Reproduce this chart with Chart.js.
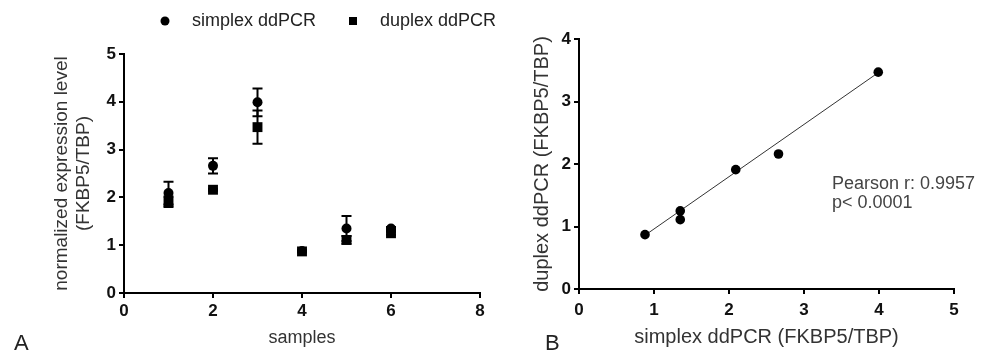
<!DOCTYPE html>
<html>
<head>
<meta charset="utf-8">
<script src="https://cdn.jsdelivr.net/npm/chart.js@4"></script>
<style>
  body { margin: 0; background: #fff; }
  #wrap { position: relative; width: 990px; height: 351px; overflow: hidden; }
  canvas { position: absolute; top: 0; }
  #chartA { left: 0; }
  #chartB { left: 490px; }
</style>
</head>
<body>
<div id="wrap">
  <canvas id="chartA" width="515" height="351"></canvas>
  <canvas id="chartB" width="500" height="351"></canvas>
</div>
<script>
// panel A: per-sample means and error bars
const samples = [1, 2, 3, 4, 5, 6];
const simplexMean = [2.09, 2.66, 3.99, 0.88, 1.35, 1.35];
const simplexSD = [0.24, 0.16, 0.29, 0.02, 0.26, 0.03];
const duplexMean = [1.91, 2.16, 3.47, 0.87, 1.11, 1.25];
const duplexSD = [0.11, 0.02, 0.35, 0.02, 0.08, 0.03];

// panel B: fitted line end points
const fitX = [0.88, 4.0];
const fitY = [0.86, 3.47];
const statsText = ['Pearson r: 0.9957', 'p< 0.0001'];

const FONT = '"Liberation Sans", Arial, sans-serif';
Chart.defaults.font.family = FONT;
Chart.defaults.color = '#222';

function axis(min, max, step, title, titleSize, padTitle, extra) {
    return Object.assign({
        type: 'linear',
        min: min,
        max: max,
        ticks: { stepSize: step, font: { size: 17, weight: 'bold' }, color: '#111', padding: 3 },
        grid: { drawOnChartArea: false, drawTicks: true, tickLength: 5, color: '#000', lineWidth: 2 },
        border: { display: true, color: '#000', width: 2 },
        title: { display: true, text: title, font: { size: titleSize }, color: '#333', padding: padTitle }
    }, extra || {});
}

const errorBars = {
    id: 'errorBars',
    beforeDatasetsDraw(chart) {
        const ctx = chart.ctx;
        const xs = chart.scales.x, ys = chart.scales.y;
        ctx.save();
        ctx.strokeStyle = '#000';
        ctx.lineWidth = 2;
        chart.data.datasets.forEach((ds) => {
            if (!ds.sd) return;
            ds.data.forEach((p, i) => {
                const x = xs.getPixelForValue(p.x);
                const yTop = ys.getPixelForValue(p.y + ds.sd[i]);
                const yBot = ys.getPixelForValue(p.y - ds.sd[i]);
                ctx.beginPath();
                ctx.moveTo(x, yTop); ctx.lineTo(x, yBot);
                ctx.moveTo(x - 5, yTop); ctx.lineTo(x + 5, yTop);
                ctx.moveTo(x - 5, yBot); ctx.lineTo(x + 5, yBot);
                ctx.stroke();
            });
        });
        ctx.restore();
    }
};

const legendA = {
    id: 'legendA',
    afterDraw(chart) {
        const ctx = chart.ctx;
        ctx.save();
        ctx.fillStyle = '#000';
        ctx.beginPath();
        ctx.arc(165, 21, 4.5, 0, Math.PI * 2);
        ctx.fill();
        ctx.fillRect(349, 17, 8, 8);
        ctx.fillStyle = '#222';
        ctx.font = '18px ' + FONT;
        ctx.textBaseline = 'middle';
        ctx.fillText('simplex ddPCR', 192, 21);
        ctx.fillText('duplex ddPCR', 380, 21);
        ctx.font = '22px ' + FONT;
        ctx.textBaseline = 'alphabetic';
        ctx.fillText('A', 14, 350);
        ctx.restore();
    }
};

const labelB = {
    id: 'labelB',
    afterDraw(chart) {
        const ctx = chart.ctx;
        ctx.save();
        ctx.fillStyle = '#444';
        ctx.font = '18px ' + FONT;
        ctx.textBaseline = 'middle';
        ctx.fillText(statsText[0], 342, 184);
        ctx.fillText(statsText[1], 342, 203);
        ctx.fillStyle = '#222';
        ctx.font = '22px ' + FONT;
        ctx.textBaseline = 'alphabetic';
        ctx.fillText('B', 55, 350);
        ctx.restore();
    }
};

new Chart('chartA', {
    type: 'scatter',
    data: {
        datasets: [
            {
                label: 'duplex ddPCR',
                data: samples.map((s, i) => ({ x: s, y: duplexMean[i] })),
                sd: duplexSD,
                pointStyle: 'rect',
                pointRadius: 7,
                backgroundColor: '#000',
                borderColor: '#000',
                borderWidth: 0,
                order: 0
            },
            {
                label: 'simplex ddPCR',
                data: samples.map((s, i) => ({ x: s, y: simplexMean[i] })),
                sd: simplexSD,
                pointStyle: 'circle',
                pointRadius: 5,
                backgroundColor: '#000',
                borderColor: '#000',
                borderWidth: 0,
                order: 1
            }
        ]
    },
    options: {
        responsive: false,
        animation: false,
        layout: { padding: { top: 54, right: 35, bottom: 0, left: 0 } },
        plugins: { legend: { display: false }, tooltip: { enabled: false } },
        scales: {
            x: axis(0, 8, 2, 'samples', 18, { top: 0, bottom: 2 }, {
                afterFit: (s) => { s.height = 58; }
            }),
            y: axis(0, 5, 1, ['normalized expression level', '(FKBP5/TBP)'], 19, { top: 50, bottom: 0 }, {
                afterFit: (s) => { s.width = 124; }
            })
        }
    },
    plugins: [errorBars, legendA]
});

const chartBx = axis(0, 5, 1, 'simplex ddPCR (FKBP5/TBP)', 20, { top: 0, bottom: 2 }, {
    afterFit: (s) => { s.height = 62; }
});
chartBx.ticks.padding = 6;

new Chart('chartB', {
    type: 'scatter',
    data: {
        datasets: [
            {
                label: 'samples',
                data: simplexMean.map((v, i) => ({ x: v, y: duplexMean[i] })),
                pointStyle: 'circle',
                pointRadius: 4.8,
                backgroundColor: '#000',
                borderColor: '#000',
                borderWidth: 0
            },
            {
                type: 'line',
                label: 'fit',
                data: fitX.map((v, i) => ({ x: v, y: fitY[i] })),
                borderColor: '#333',
                borderWidth: 1,
                pointRadius: 0,
                fill: false
            }
        ]
    },
    options: {
        responsive: false,
        animation: false,
        layout: { padding: { top: 39, right: 36, bottom: 0, left: 0 } },
        plugins: { legend: { display: false }, tooltip: { enabled: false } },
        scales: {
            x: chartBx,
            y: axis(0, 4, 1, 'duplex ddPCR (FKBP5/TBP)', 20, { top: 40, bottom: 0 }, {
                afterFit: (s) => { s.width = 89; }
            })
        }
    },
    plugins: [labelB]
});
</script>
</body>
</html>
